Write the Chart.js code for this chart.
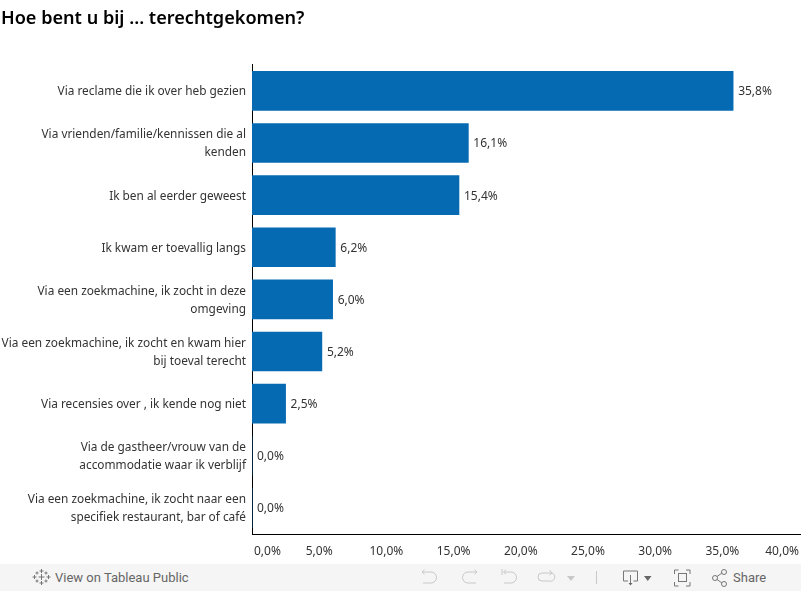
<!DOCTYPE html>
<html>
<head>
<meta charset="utf-8">
<script src="https://cdn.jsdelivr.net/npm/chart.js@4"></script>
<style>
    html, body { margin: 0; padding: 0; background: #fff; }
    #page { position: relative; width: 801px; height: 591px; overflow: hidden; }
    #title { position: absolute; left: 1px; top: 5px; font: 600 18.1px "Noto Sans", sans-serif; color: #000; white-space: nowrap; }
    #chartBox { position: absolute; left: 0; top: 0; width: 801px; height: 564px; }
    #toolbar { position: absolute; left: 0; top: 564px; width: 801px; height: 27px; background: #f5f5f5; color: #666; font: 400 13px Roboto, sans-serif; }
    #toolbar span { position: absolute; top: 6px; white-space: nowrap; }
    #toolbar svg { position: absolute; left: 0; top: 0; }
</style>
</head>
<body>
<div id="page">
    <div id="chartBox"><canvas id="chart"></canvas></div>
    <div id="title">Hoe bent u bij ... terechtgekomen?</div>
    <div id="toolbar">
        <svg width="801" height="27" fill="none" stroke="#777" stroke-width="1">
            <!-- logo -->
            <path d="M41.5 10v6M38.5 13h6M41.5 5v4M39.5 7h4M41.5 17v4M39.5 19h4M34.5 11v4M32.5 13h4M48.5 11v4M46.5 13h4M37 7.5v3M35.5 9h3M46 7.5v3M44.5 9h3M37 15.5v3M35.5 17h3M46 15.5v3M44.5 17h3"/>
            <!-- undo / redo / revert / refresh -->
            <g stroke="#c8c8c8">
                <path d="M422 8h9a5.5 5.5 0 0 1 0 11h-8M424.500 5.500l-2.500 2.500 2.500 2"/>
                <path d="M477 8h-9a5.500 5.500 0 0 0 0 11h8M474.500 5.500l2.500 2.500-2.500 2"/>
                <path d="M502 5v6M504 8h7a5.500 5.500 0 0 1 0 11h-7M506 5.500l-2.500 2.500 2.500 2"/>
                <path d="M552 9h-10a4 4 0 0 0 0 8h7a4 4 0 0 0 3-8M549.500 6l2.500 3-2.500 2"/>
                <path d="M596.500 7v13"/>
            </g>
            <path d="M567 12h8l-4 5z" fill="#c8c8c8" stroke="none"/>
            <!-- download -->
            <path d="M628 17h-4.500v-10h14v10h-4M630.500 11v9"/>
            <path d="M628.500 19h4l-2 2.500z" fill="#666" stroke="none"/>
            <path d="M644 12h7.500l-3.750 5z" fill="#666" stroke="none"/>
            <!-- fullscreen -->
            <path d="M674.500 10v-4h4M686 6h4v4M690 18v4h-4M678.500 22h-4v-4"/>
            <rect x="678.500" y="9.500" width="8" height="8"/>
            <!-- share -->
            <circle cx="715" cy="14" r="2.500"/><circle cx="724" cy="8" r="2.500"/><circle cx="724" cy="20" r="2.500"/>
            <path d="M717 12.500l5-3.500M717 15.500l5 3.500"/>
        </svg>
        <span style="left:55px">View on Tableau Public</span>
        <span style="left:733px">Share</span>
    </div>
</div>
<script>
// Data
const categories = [
    'Via reclame die ik over heb gezien',
    ['Via vrienden/familie/kennissen die al', 'kenden'],
    'Ik ben al eerder geweest',
    'Ik kwam er toevallig langs',
    ['Via een zoekmachine, ik zocht in deze', 'omgeving'],
    ['Via een zoekmachine, ik zocht en kwam hier', 'bij toeval terecht'],
    'Via recensies over , ik kende nog niet',
    ['Via de gastheer/vrouw van de', 'accommodatie waar ik verblijf'],
    ['Via een zoekmachine, ik zocht naar een', 'specifiek restaurant, bar of café']
];
const shares = [35.8, 16.1, 15.4, 6.2, 6.0, 5.2, 2.5, 0.0, 0.0];
const xTicks = [0, 5, 10, 15, 20, 25, 30, 35, 40];

const textColor = '#333333';
const barColor = '#066ab2';
const fontFamily = '"Noto Sans", sans-serif';

function pct(v) {
    return v.toFixed(1).replace('.', ',') + '%';
}

// bar value labels, right of each bar
const valueLabels = {
    id: 'valueLabels',
    afterDatasetsDraw(chart) {
        const ctx = chart.ctx;
        const bars = chart.getDatasetMeta(0).data;
        ctx.save();
        ctx.font = '12px ' + fontFamily;
        ctx.fillStyle = textColor;
        ctx.textAlign = 'left';
        ctx.textBaseline = 'middle';
        bars.forEach((bar, i) => ctx.fillText(pct(shares[i]), bar.x + 5, bar.y + 1));
        ctx.restore();
    }
};

// x tick labels, kept inside the page like the original
const xTickLabels = {
    id: 'xTickLabels',
    afterDraw(chart) {
        const ctx = chart.ctx;
        const scale = chart.scales.x;
        ctx.save();
        ctx.font = '12px ' + fontFamily;
        ctx.fillStyle = textColor;
        ctx.textBaseline = 'middle';
        ctx.textAlign = 'left';
        scale.ticks.forEach(tick => {
            const text = pct(tick.value);
            const w = ctx.measureText(text).width;
            let x = scale.getPixelForValue(tick.value) - w / 2;
            x = Math.max(254, Math.min(799 - w, x));
            ctx.fillText(text, x, 552);
        });
        ctx.restore();
    }
};

new Chart(document.getElementById('chart').getContext('2d'), {
    type: 'bar',
    data: {
        labels: categories,
        datasets: [{
            data: shares,
            backgroundColor: barColor,
            barThickness: 39
        }]
    },
    options: {
        indexAxis: 'y',
        responsive: true,
        maintainAspectRatio: false,
        animation: false,
        layout: { padding: { top: 64.8, left: 0, right: 0, bottom: 30 } },
        plugins: { legend: { display: false }, tooltip: { enabled: false } },
        scales: {
            x: {
                min: 0,
                max: 40.85,
                afterBuildTicks(scale) {
                    scale.ticks = xTicks.map(v => ({ value: v }));
                },
                grid: { display: false, drawTicks: false },
                border: { color: '#000', width: 1 },
                ticks: { display: false }
            },
            y: {
                grid: { display: false, drawTicks: false },
                border: { color: '#000', width: 1 },
                afterFit(scale) { scale.width = 252; },
                ticks: {
                    color: textColor,
                    font: { family: fontFamily, size: 11.85, lineHeight: 1.5 },
                    padding: 6,
                    labelOffset: 1,
                    autoSkip: false,
                    crossAlign: 'near'
                }
            }
        }
    },
    plugins: [valueLabels, xTickLabels]
});
</script>
</body>
</html>
